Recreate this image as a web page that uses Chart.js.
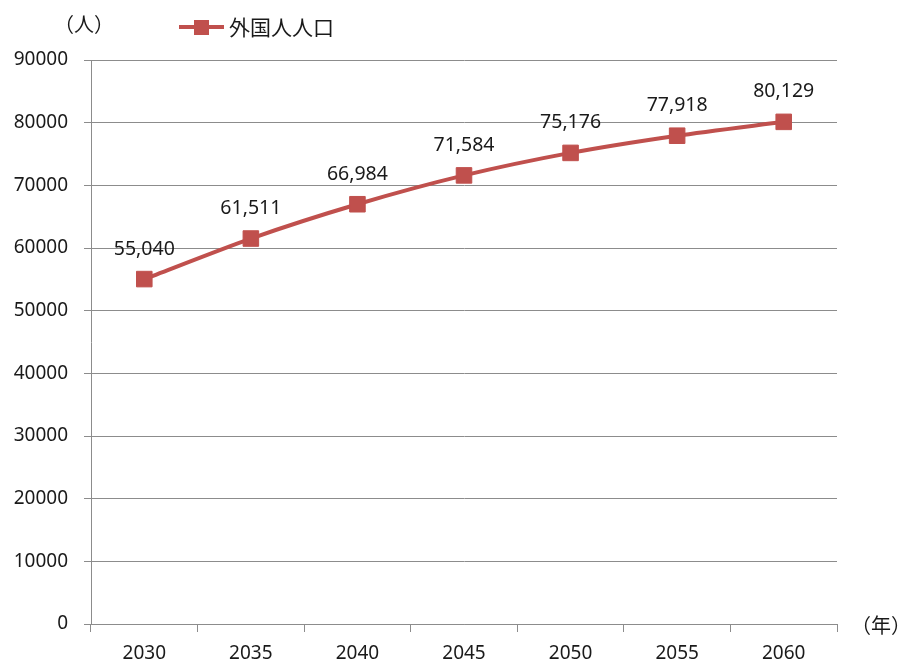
<!DOCTYPE html>
<html>
<head>
<meta charset="utf-8">
<script src="https://cdn.jsdelivr.net/npm/chart.js@4"></script>
<style>
  body { margin: 0; background: #fff; }
  #wrap { width: 906px; height: 666px; }
</style>
</head>
<body>
<div id="wrap"><canvas id="popChart" width="906" height="666"></canvas></div>
<script>
// 外国人人口の推計
const years = ['2030', '2035', '2040', '2045', '2050', '2055', '2060'];
const foreignPop = [55040, 61511, 66984, 71584, 75176, 77918, 80129];
const seriesName = '外国人人口';

const red = '#C0504D';
const gridGray = '#8c8c8c';
const txtFont = "'Noto Sans', 'Noto Sans CJK JP', sans-serif";

// ラベル・凡例・単位を描くプラグイン
const extraText = {
    id: 'extraText',
    afterDatasetsDraw(chart) {
        const ctx = chart.ctx;
        const meta = chart.getDatasetMeta(0);
        ctx.save();
        ctx.fillStyle = '#1a1a1a';
        ctx.font = '19.5px ' + txtFont;
        ctx.textAlign = 'center';
        ctx.textBaseline = 'middle';
        meta.data.forEach(function (pt, i) {
            ctx.fillText(foreignPop[i].toLocaleString('en-US'), pt.x, pt.y - 30);
        });

        // 単位
        ctx.font = "20px 'Noto Sans CJK JP', sans-serif";
        ctx.fillText('（人）', 84, 24);
        ctx.fillText('（年）', 881, 625);

        // 凡例
        ctx.strokeStyle = red;
        ctx.lineWidth = 4;
        ctx.beginPath();
        ctx.moveTo(179, 27);
        ctx.lineTo(224, 27);
        ctx.stroke();
        ctx.fillStyle = red;
        ctx.fillRect(194, 20, 15, 15);
        ctx.fillStyle = '#1a1a1a';
        ctx.textAlign = 'left';
        ctx.font = "21px 'Noto Sans CJK JP', sans-serif";
        ctx.fillText(seriesName, 229, 27);
        ctx.restore();
    }
};

document.addEventListener('DOMContentLoaded', function () {
    var ctx = document.getElementById('popChart').getContext('2d');
    new Chart(ctx, {
        type: 'line',
        data: {
            labels: years,
            datasets: [{
                label: seriesName,
                data: foreignPop,
                borderColor: red,
                backgroundColor: red,
                borderWidth: 4,
                pointStyle: 'rect',
                pointRadius: 11,
                pointHoverRadius: 11,
                pointBorderWidth: 1,
                tension: 0.25
            }]
        },
        options: {
            responsive: false,
            animation: false,
            layout: { padding: { top: 60, right: 69, left: 0, bottom: 0 } },
            plugins: {
                legend: { display: false },
                tooltip: { enabled: false }
            },
            scales: {
                x: {
                    offset: true,
                    grid: {
                        offset: true,
                        drawOnChartArea: false,
                        tickLength: 8,
                        color: gridGray
                    },
                    border: { color: gridGray },
                    ticks: {
                        color: '#1a1a1a',
                        font: { family: txtFont, size: 19 },
                        padding: 10,
                        maxRotation: 0
                    },
                    afterFit(scale) { scale.height = 42; }
                },
                y: {
                    min: 0,
                    max: 90000,
                    grid: { color: gridGray, tickLength: 7 },
                    border: { color: gridGray },
                    ticks: {
                        stepSize: 10000,
                        color: '#1a1a1a',
                        font: { family: txtFont, size: 19 },
                        padding: 16,
                        callback: function (v) { return String(v); }
                    },
                    afterFit(scale) { scale.width = 91; }
                }
            }
        },
        plugins: [extraText]
    });
});
</script>
</body>
</html>
